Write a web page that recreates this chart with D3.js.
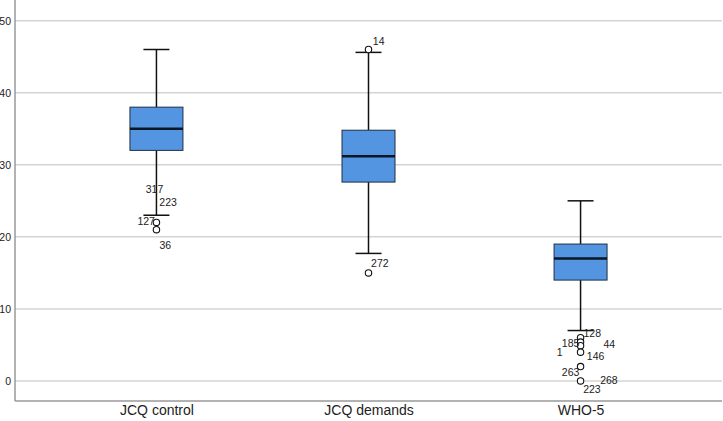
<!DOCTYPE html>
<html>
<head>
<meta charset="utf-8">
<script src="https://cdn.jsdelivr.net/npm/d3@7"></script>
<style>
  html, body { margin: 0; padding: 0; background: #fff; overflow: hidden; }
  svg { display: block; font-family: Arial, "Liberation Sans", sans-serif; }
</style>
</head>
<body>
<svg id="chart" width="723" height="421"></svg>
<script>
// ---- data ----
const categories = ["JCQ control", "JCQ demands", "WHO-5"];
const whiskerLow  = [23, 17.7, 7];
const q1          = [32, 27.6, 14];
const median      = [35, 31.2, 17];
const q3          = [38, 34.8, 19];
const whiskerHigh = [46, 45.6, 25];
const yTicks = [0, 10, 20, 30, 40, 50];

const outlierGroup = [0, 0, 1, 1, 2, 2, 2, 2, 2, 2];
const outlierValue = [22, 21, 46, 15, 6, 5.4, 4.9, 4, 2, 0];

const labelText  = ["317", "223", "127", "36", "14", "272", "128", "185", "44", "1", "146", "263", "268", "223"];
const labelGroup = [0, 0, 0, 0, 1, 1, 2, 2, 2, 2, 2, 2, 2, 2];
const labelValue = [22, 22, 22, 21, 46, 15, 6, 5.4, 4.9, 4, 4, 2, 0, 0];

// ---- layout (label nudges in px, relative to the point) ----
const labelDx = [-10.7, 2.9, -19, 3, 4.3, 2.6, 2.9, -18.7, 22.9, -23.7, 6.3, -18.7, 19.6, 2.6];
const labelDy = [-29, -16.5, 2.5, 19, -4.5, -6.2, -0.5, 4.6, 2.3, 3.5, 7.8, 9.4, 3, 12];

const W = 723, H = 421;
const mLeft = 15, mRight = 722, mTop = 0, mBottom = 401;
const svg = d3.select("#chart");

const y = d3.scaleLinear().domain([-2.78, 52.87]).range([mBottom, mTop]);
const x = d3.scalePoint().domain(categories).range([mLeft, mRight]).padding(0.667);

const boxW = 53, capW = 26;

// gridlines
svg.append("g").selectAll("line").data(yTicks).join("line")
  .attr("x1", mLeft).attr("x2", mRight)
  .attr("y1", d => y(d)).attr("y2", d => y(d))
  .attr("stroke", "#d4d4d4").attr("stroke-width", 1.5);

// y axis
const yAxis = svg.append("g").attr("transform", `translate(${mLeft},0)`)
  .call(d3.axisLeft(y).tickValues(yTicks).tickSize(0).tickPadding(4));
yAxis.select(".domain").remove();
yAxis.selectAll("text").attr("font-size", "10.5px").attr("fill", "#222")
  .attr("font-family", "Arial, 'Liberation Sans', sans-serif");
svg.append("line").attr("x1", mLeft).attr("x2", mLeft).attr("y1", mTop).attr("y2", mBottom)
  .attr("stroke", "#999").attr("stroke-width", 1.5);

// x axis
const xAxis = svg.append("g").attr("transform", `translate(0,${mBottom})`)
  .call(d3.axisBottom(x).tickSize(0).tickPadding(4));
xAxis.select(".domain").remove();
xAxis.selectAll("text").attr("font-size", "14px").attr("fill", "#222")
  .attr("font-family", "Arial, 'Liberation Sans', sans-serif");
svg.append("line").attr("x1", mLeft).attr("x2", mRight).attr("y1", mBottom).attr("y2", mBottom)
  .attr("stroke", "#999").attr("stroke-width", 1.5);

// boxes
const idx = categories.map((c, i) => i);
const g = svg.append("g");
// whiskers
g.append("g").selectAll("line").data(idx).join("line")
  .attr("x1", i => x(categories[i])).attr("x2", i => x(categories[i]))
  .attr("y1", i => y(q3[i])).attr("y2", i => y(whiskerHigh[i]))
  .attr("stroke", "#111").attr("stroke-width", 1.5);
g.append("g").selectAll("line").data(idx).join("line")
  .attr("x1", i => x(categories[i])).attr("x2", i => x(categories[i]))
  .attr("y1", i => y(q1[i])).attr("y2", i => y(whiskerLow[i]))
  .attr("stroke", "#111").attr("stroke-width", 1.5);
// caps
[whiskerHigh, whiskerLow].forEach(arr => {
  g.append("g").selectAll("line").data(idx).join("line")
    .attr("x1", i => x(categories[i]) - capW / 2).attr("x2", i => x(categories[i]) + capW / 2)
    .attr("y1", i => y(arr[i])).attr("y2", i => y(arr[i]))
    .attr("stroke", "#111").attr("stroke-width", 1.5);
});
// box rect
g.append("g").selectAll("rect").data(idx).join("rect")
  .attr("x", i => x(categories[i]) - boxW / 2)
  .attr("width", boxW)
  .attr("y", i => y(q3[i]))
  .attr("height", i => y(q1[i]) - y(q3[i]))
  .attr("fill", "#5495e1").attr("stroke", "#1f2f45").attr("stroke-width", 1);
// median
g.append("g").selectAll("line").data(idx).join("line")
  .attr("x1", i => x(categories[i]) - boxW / 2).attr("x2", i => x(categories[i]) + boxW / 2)
  .attr("y1", i => y(median[i])).attr("y2", i => y(median[i]))
  .attr("stroke", "#0b1626").attr("stroke-width", 2.5);

// outliers
g.append("g").selectAll("circle").data(outlierValue.map((v, i) => i)).join("circle")
  .attr("cx", i => x(categories[outlierGroup[i]]))
  .attr("cy", i => y(outlierValue[i]))
  .attr("r", 3.2)
  .attr("fill", "#fff").attr("stroke", "#111").attr("stroke-width", 1.1);

// outlier labels
g.append("g").selectAll("text").data(labelText.map((t, i) => i)).join("text")
  .attr("x", i => x(categories[labelGroup[i]]) + labelDx[i])
  .attr("y", i => y(labelValue[i]) + labelDy[i])
  .attr("font-size", "10.5px").attr("fill", "#222")
  .text(i => labelText[i]);
</script>
</body>
</html>
